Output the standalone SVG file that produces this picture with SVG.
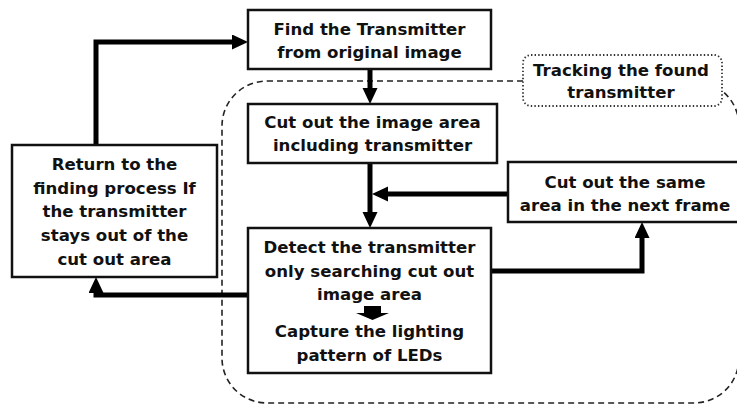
<svg xmlns="http://www.w3.org/2000/svg" width="737" height="408" viewBox="0 0 737 408">
<defs>
<style>
.box{fill:#fff;stroke:#111;stroke-width:2.5}
.t{font-family:"DejaVu Sans","Liberation Sans",Arial,sans-serif;font-weight:bold;font-size:16.6px;fill:#111;text-anchor:middle}
.conn{fill:none;stroke:#000;stroke-width:5;stroke-linejoin:miter}
.region{fill:none;stroke:#222;stroke-width:1.6;stroke-dasharray:6 4}
.label{fill:#fff;stroke:#333;stroke-width:1.8;stroke-dasharray:1.4 2.2}
</style>
<marker id="ah" markerUnits="userSpaceOnUse" markerWidth="18" markerHeight="16" refX="2" refY="7.5" orient="auto">
<path d="M0,0 L16,7.5 L0,15 z" fill="#000"/>
</marker>
</defs>
<rect width="737" height="408" fill="#fff"/>
<g id="tracking-region">
<rect class="region" x="222" y="81" width="517" height="322" rx="45" ry="45"/>
</g>
<g id="connectors">
<path class="conn" d="M96,145 V42 H234" marker-end="url(#ah)"/>
<path class="conn" d="M370,69 V90" marker-end="url(#ah)"/>
<path class="conn" d="M370,163 V214" marker-end="url(#ah)"/>
<path class="conn" d="M508,194 H386" marker-end="url(#ah)"/>
<path class="conn" d="M491,271 H642 V236" marker-end="url(#ah)"/>
<path class="conn" d="M248,295 H96 V291" marker-end="url(#ah)"/>
</g>
<g id="find">
<rect class="box" x="248" y="10" width="243" height="59"/>
<text class="t" x="369.5" y="35">Find the Transmitter</text>
<text class="t" x="369.5" y="58">from original image</text>
</g>
<g id="cutout">
<rect class="box" x="248" y="104" width="249" height="59"/>
<text class="t" x="372.5" y="128">Cut out the image area</text>
<text class="t" x="372.5" y="151">including transmitter</text>
</g>
<g id="tracking-label">
<rect class="label" x="523" y="55" width="199" height="51" rx="8" ry="8"/>
<text class="t" x="621" y="76">Tracking the found</text>
<text class="t" x="621" y="98">transmitter</text>
</g>
<g id="cutsame">
<rect class="box" x="508" y="162" width="234" height="60"/>
<text class="t" x="625" y="188">Cut out the same</text>
<text class="t" x="625" y="211">area in the next frame</text>
</g>
<g id="return">
<rect class="box" x="12" y="145" width="205" height="132"/>
<text class="t" x="114.5" y="170">Return to the</text>
<text class="t" x="114.5" y="193.5">finding process If</text>
<text class="t" x="114.5" y="217">the transmitter</text>
<text class="t" x="114.5" y="241">stays out of the</text>
<text class="t" x="114.5" y="265">cut out area</text>
</g>
<g id="detect">
<rect class="box" x="248" y="228" width="243" height="145"/>
<text class="t" x="369.5" y="253">Detect the transmitter</text>
<text class="t" x="369.5" y="277">only searching cut out</text>
<text class="t" x="369.5" y="300">image area</text>
<path d="M364,306 H381 V313 H389 L372.5,320 L356,313 H364 z" fill="#000"/>
<text class="t" x="369.5" y="337">Capture the lighting</text>
<text class="t" x="369.5" y="361">pattern of LEDs</text>
</g>
</svg>
